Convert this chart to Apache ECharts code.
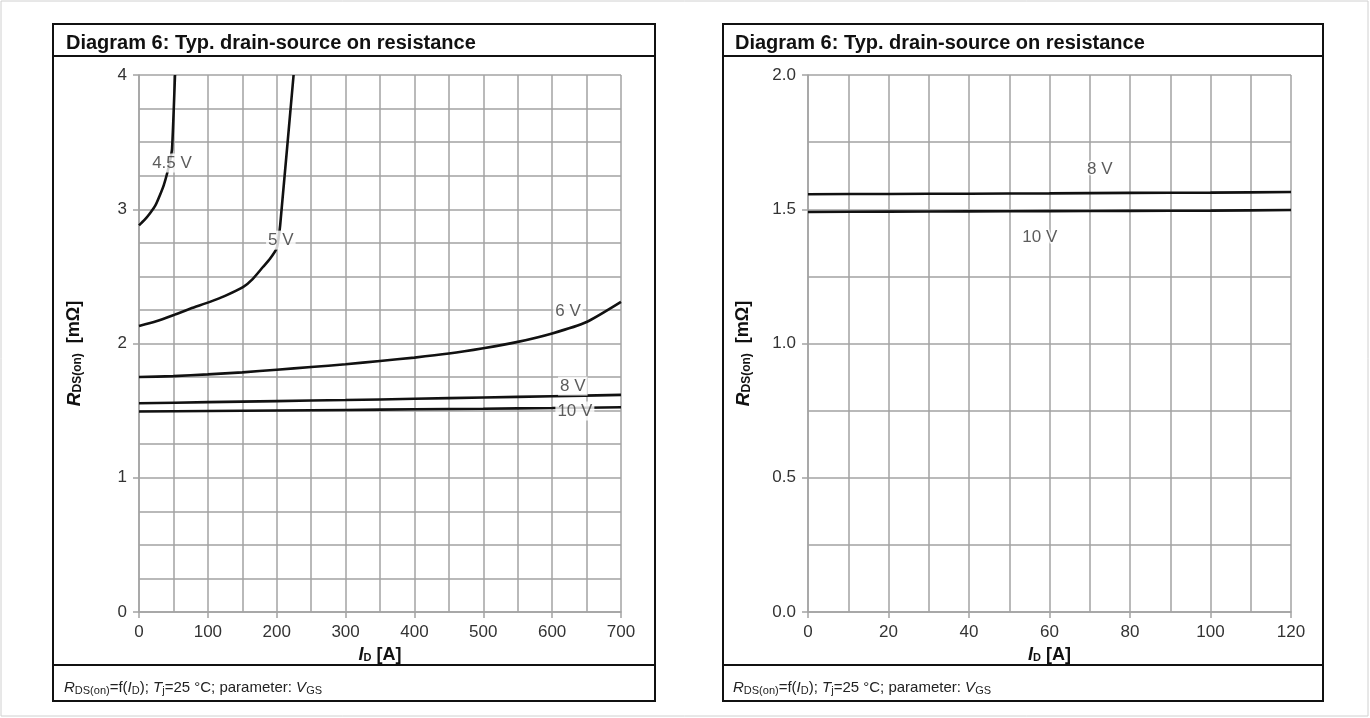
<!DOCTYPE html>
<html>
<head>
<meta charset="utf-8">
<script src="https://cdn.jsdelivr.net/npm/echarts@6/dist/echarts.min.js"></script>
<style>
html,body{margin:0;padding:0;background:#fff;}
#chart{width:1370px;height:718px;}
</style>
</head>
<body>
<div id="chart"></div>
<script>
// ---------- Data (left diagram, ID 0..700 A) ----------
const L_VGS45 = [[0,2.88],[8,2.92],[16,2.97],[24,3.03],[30,3.10],[36,3.18],[41,3.27],[45,3.36],[48,3.45],[52.3,4.0]];
const L_VGS5  = [[0,2.13],[25,2.165],[52,2.215],[75,2.26],[103,2.31],[125,2.355],[151,2.42],[165,2.48],[180,2.57],[190,2.63],[200,2.71],[203,2.80],[205,2.88],[224.5,4.0]];
const L_VGS6  = [[0,1.75],[50,1.757],[100,1.77],[150,1.785],[200,1.805],[250,1.825],[300,1.845],[350,1.87],[400,1.895],[450,1.925],[500,1.965],[550,2.012],[600,2.075],[650,2.16],[700,2.31]];
const L_VGS8  = [[0,1.555],[100,1.563],[200,1.571],[300,1.579],[400,1.588],[500,1.598],[600,1.607],[700,1.617]];
const L_VGS10 = [[0,1.493],[100,1.497],[200,1.501],[300,1.505],[400,1.51],[500,1.514],[600,1.519],[700,1.525]];
// curve labels (data coordinates)
const L_LABELS = [[47.9,3.344,'4.5 V'],[206,2.77,'5 V'],[623,2.24,'6 V'],[630,1.683,'8 V'],[633,1.497,'10 V']];

// ---------- Data (right diagram, ID 0..120 A) ----------
const R_VGS8  = [[0,1.556],[20,1.557],[40,1.558],[60,1.559],[80,1.561],[100,1.562],[120,1.564]];
const R_VGS10 = [[0,1.490],[20,1.491],[40,1.492],[60,1.493],[80,1.494],[100,1.495],[120,1.497]];
const R_LABELS = [[72.5,1.65,'8 V'],[57.6,1.397,'10 V']];

// ---------- Text ----------
const TITLE_TEXT = 'Diagram 6: Typ. drain-source on resistance';

const FONT = '"Liberation Sans", Arial, sans-serif';
const GRID_COLOR = '#a3a3a3';
const LABEL_COLOR = '#333';

const chart = echarts.init(document.getElementById('chart'), null, {renderer:'canvas'});

function xAxisCfg(idx, max, interval){
  return {
    type:'value', gridIndex:idx, min:0, max:max, interval:interval,
    name:'{i|I}{s|D}{b| [A]}', nameLocation:'middle', nameGap:33,
    nameTextStyle:{ rich:{
      i:{fontFamily:FONT,fontSize:18,fontWeight:'bold',fontStyle:'italic',color:'#111'},
      s:{fontFamily:FONT,fontSize:11,fontWeight:'bold',color:'#111',padding:[6,0,0,0]},
      b:{fontFamily:FONT,fontSize:18,fontWeight:'bold',color:'#111'}
    }},
    axisLine:{show:true,lineStyle:{color:GRID_COLOR,width:1.5}},
    axisTick:{show:true,length:6,lineStyle:{color:GRID_COLOR,width:1.5}},
    axisLabel:{fontFamily:FONT,fontSize:17,color:LABEL_COLOR,margin:12},
    splitLine:{show:true,lineStyle:{color:GRID_COLOR,width:1.5}},
    minorTick:{show:false,splitNumber:2},
    minorSplitLine:{show:true,lineStyle:{color:GRID_COLOR,width:1.5}}
  };
}
function yAxisCfg(idx, max, interval, minorSplit, decimals, gap){
  return {
    type:'value', gridIndex:idx, min:0, max:max, interval:interval,
    name:'{i|R}{s|DS(on)}{b|  [mΩ]}', nameLocation:'middle', nameGap:gap, nameRotate:90,
    nameTextStyle:{ padding:[0,20,0,0], rich:{
      i:{fontFamily:FONT,fontSize:19,fontWeight:'bold',fontStyle:'italic',color:'#111'},
      s:{fontFamily:FONT,fontSize:12,fontWeight:'bold',color:'#111',padding:[6,0,0,0]},
      b:{fontFamily:FONT,fontSize:18,fontWeight:'bold',color:'#111'}
    }},
    axisLine:{show:true,lineStyle:{color:GRID_COLOR,width:1.5}},
    axisTick:{show:true,length:6,lineStyle:{color:GRID_COLOR,width:1.5}},
    axisLabel:{fontFamily:FONT,fontSize:17,color:LABEL_COLOR,margin:12,
      formatter:function(v){return v.toFixed(decimals);}},
    splitLine:{show:true,lineStyle:{color:GRID_COLOR,width:1.5}},
    minorTick:{show:false,splitNumber:minorSplit},
    minorSplitLine:{show:true,lineStyle:{color:GRID_COLOR,width:1.5}}
  };
}
function curve(data, xi, yi){
  return {type:'line', xAxisIndex:xi, yAxisIndex:yi, data:data, smooth:0.2, symbol:'none',
    lineStyle:{color:'#111',width:2.6}, z:3, silent:true, animation:false, clip:true};
}
function labels(data, xi, yi, withBg){
  return {type:'scatter', xAxisIndex:xi, yAxisIndex:yi, data:data, symbolSize:1,
    itemStyle:{color:'rgba(0,0,0,0)'}, z:5, silent:true, animation:false,
    label:{show:true, position:'inside', formatter:function(p){return p.value[2];},
      fontFamily:FONT, fontSize:17, color:LABEL_COLOR,
      backgroundColor: withBg ? '#fff' : 'transparent', padding: withBg ? [1,2] : 0,
      textBorderColor:'#fff', textBorderWidth: withBg ? 0 : 3}
  };
}

const captionRich = {
  i:{fontFamily:FONT,fontSize:15,fontStyle:'italic',fontWeight:'normal',color:'#222'},
  s:{fontFamily:FONT,fontSize:11,fontWeight:'normal',color:'#222',padding:[5,0,0,0]},
  n:{fontFamily:FONT,fontSize:15,fontWeight:'normal',color:'#222'}
};
const captionText = '{i|R}{s|DS(on)}{n|=f(}{i|I}{s|D}{n|); }{i|T}{s|j}{n|=25 °C; parameter: }{i|V}{s|GS}';

const option = {
  backgroundColor:'#fff',
  animation:false,
  title:[
    {text:TITLE_TEXT, left:61, top:28, textStyle:{fontFamily:FONT,fontSize:20,fontWeight:'bold',color:'#111'}},
    {text:TITLE_TEXT, left:730, top:28, textStyle:{fontFamily:FONT,fontSize:20,fontWeight:'bold',color:'#111'}},
    {text:captionText, left:59, top:675, textStyle:{fontWeight:'normal',rich:captionRich}},
    {text:captionText, left:728, top:675, textStyle:{fontWeight:'normal',rich:captionRich}}
  ],
  grid:[
    {left:139, right:1370-621, top:75, bottom:718-612, containLabel:false},
    {left:808, right:1370-1291, top:75, bottom:718-612, containLabel:false}
  ],
  xAxis:[ xAxisCfg(0,700,100), xAxisCfg(1,120,20) ],
  yAxis:[ yAxisCfg(0,4,1,4,0,55), yAxisCfg(1,2,0.5,2,1,55) ],
  series:[
    curve(L_VGS45,0,0), curve(L_VGS5,0,0), curve(L_VGS6,0,0), curve(L_VGS8,0,0), curve(L_VGS10,0,0),
    labels(L_LABELS,0,0,true),
    curve(R_VGS8,1,1), curve(R_VGS10,1,1),
    labels(R_LABELS,1,1,false)
  ],
  graphic:[
    {type:'rect', shape:{x:1,y:1,width:1367,height:715}, style:{fill:'none',stroke:'#d0d0d0',lineWidth:1}, silent:true},
    {type:'rect', shape:{x:53,y:24,width:602,height:677}, style:{fill:'none',stroke:'#111',lineWidth:2}, silent:true},
    {type:'line', shape:{x1:53,y1:56,x2:655,y2:56}, style:{stroke:'#111',lineWidth:2}, silent:true},
    {type:'line', shape:{x1:53,y1:665,x2:655,y2:665}, style:{stroke:'#111',lineWidth:2}, silent:true},
    {type:'rect', shape:{x:723,y:24,width:600,height:677}, style:{fill:'none',stroke:'#111',lineWidth:2}, silent:true},
    {type:'line', shape:{x1:723,y1:56,x2:1323,y2:56}, style:{stroke:'#111',lineWidth:2}, silent:true},
    {type:'line', shape:{x1:723,y1:665,x2:1323,y2:665}, style:{stroke:'#111',lineWidth:2}, silent:true}
  ]
};
chart.setOption(option);
</script>
</body>
</html>
